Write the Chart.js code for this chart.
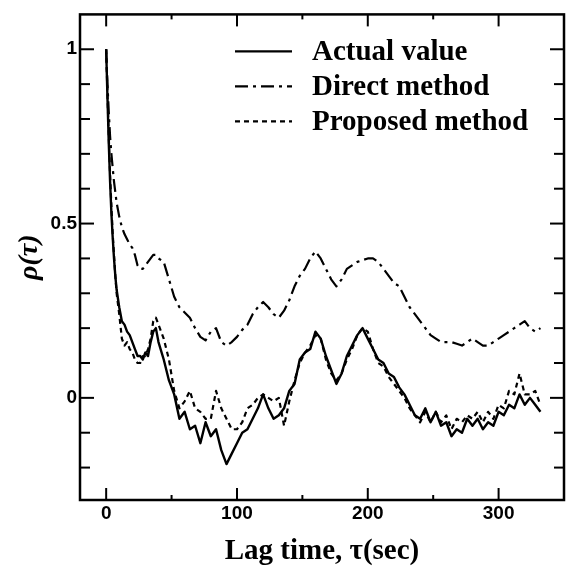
<!DOCTYPE html>
<html>
<head>
<meta charset="utf-8">
<title>Autocorrelation vs lag time</title>
<script src="https://cdn.jsdelivr.net/npm/chart.js@4.4.1/dist/chart.umd.min.js"></script>
<style>
  html, body { margin: 0; padding: 0; background: #fff; }
  #wrap { width: 573px; height: 569px; }
</style>
</head>
<body>
<div id="wrap"><canvas id="acf" width="573" height="569"></canvas></div>
<script>
// lag time (sec)
const lag = [0, 1, 2, 3, 4, 5, 6, 7, 8,
  10, 12, 14, 16, 18, 20, 22, 24, 26, 28, 30, 32, 34, 36, 38, 40,
  44, 48, 52, 56, 60, 64, 68, 72, 76, 80,
  84, 88, 92, 96, 100, 104, 108, 112, 116, 120,
  124, 128, 132, 136, 140, 144, 148, 152, 156, 160,
  164, 168, 172, 176, 180, 184, 188, 192, 196, 200,
  204, 208, 212, 216, 220, 224, 228, 232, 236, 240,
  244, 248, 252, 256, 260, 264, 268, 272, 276, 280,
  284, 288, 292, 296, 300, 304, 308, 312, 316, 320,
  324, 328, 332];

// rho(tau)
const actualValue = [1.00, 0.86, 0.73, 0.62, 0.53, 0.46, 0.40, 0.35, 0.31,
  0.26, 0.22, 0.21, 0.19, 0.18, 0.16, 0.14, 0.12, 0.12, 0.11, 0.13, 0.12, 0.16, 0.19, 0.20, 0.16,
  0.11, 0.05, 0.01, -0.06, -0.04, -0.09, -0.08, -0.13, -0.07, -0.11,
  -0.09, -0.15, -0.19, -0.16, -0.13, -0.10, -0.09, -0.06, -0.03, 0.01,
  -0.03, -0.06, -0.05, -0.03, 0.02, 0.04, 0.11, 0.13, 0.14, 0.19,
  0.17, 0.12, 0.08, 0.04, 0.07, 0.12, 0.15, 0.18, 0.20, 0.17,
  0.14, 0.11, 0.10, 0.07, 0.06, 0.03, 0.01, -0.02, -0.05, -0.06,
  -0.03, -0.07, -0.04, -0.08, -0.07, -0.11, -0.09, -0.10, -0.06, -0.08,
  -0.06, -0.09, -0.07, -0.08, -0.04, -0.05, -0.02, -0.03, 0.01, -0.02,
  0.00, -0.02, -0.04];

const directMethod = [1.00, 0.90, 0.82, 0.75, 0.70, 0.66, 0.62, 0.59, 0.56,
  0.52, 0.49, 0.47, 0.455, 0.44, 0.43, 0.41, 0.38, 0.37, 0.37, 0.38, 0.39, 0.40, 0.41, 0.41, 0.40,
  0.39, 0.34, 0.29, 0.26, 0.245, 0.23, 0.20, 0.175, 0.165, 0.19,
  0.20, 0.16, 0.15, 0.16, 0.175, 0.195, 0.21, 0.24, 0.26, 0.275,
  0.26, 0.24, 0.23, 0.25, 0.28, 0.32, 0.35, 0.37, 0.40, 0.42,
  0.40, 0.37, 0.34, 0.32, 0.34, 0.37, 0.38, 0.39, 0.395, 0.40,
  0.40, 0.39, 0.37, 0.35, 0.33, 0.32, 0.29, 0.26, 0.24, 0.22,
  0.20, 0.18, 0.17, 0.16, 0.16, 0.16, 0.155, 0.15, 0.16, 0.17,
  0.16, 0.15, 0.15, 0.16, 0.17, 0.18, 0.19, 0.20, 0.21, 0.22,
  0.20, 0.19, 0.20];

const proposedMethod = [1.00, 0.87, 0.75, 0.64, 0.55, 0.47, 0.41, 0.35, 0.30,
  0.24, 0.17, 0.15, 0.16, 0.14, 0.13, 0.11, 0.10, 0.10, 0.12, 0.12, 0.14, 0.17, 0.22, 0.23, 0.21,
  0.17, 0.11, 0.02, -0.03, -0.01, 0.02, -0.03, -0.04, -0.06, -0.06,
  0.02, -0.03, -0.06, -0.09, -0.09, -0.07, -0.03, -0.02, 0.00, 0.01,
  0.00, -0.01, 0.00, -0.08, -0.01, 0.05, 0.10, 0.13, 0.15, 0.18,
  0.17, 0.11, 0.07, 0.05, 0.07, 0.11, 0.14, 0.18, 0.20, 0.19,
  0.14, 0.10, 0.09, 0.06, 0.04, 0.02, 0.00, -0.03, -0.05, -0.07,
  -0.04, -0.07, -0.04, -0.07, -0.05, -0.09, -0.06, -0.07, -0.05, -0.06,
  -0.04, -0.07, -0.04, -0.06, -0.02, -0.03, 0.02, 0.01, 0.07, 0.01,
  0.01, 0.02, -0.02];

// axis ticks
const xMajor = [0, 100, 200, 300];
const xMinor = [50, 150, 250];
const yMajor = [0, 0.5, 1];
const yMinor = [-0.2, -0.1, 0.1, 0.2, 0.3, 0.4, 0.6, 0.7, 0.8, 0.9];

const toPoints = ys => lag.map((t, i) => ({x: t, y: ys[i]}));

// box round the plot with inward ticks on every side
const frame = {
  id: "frame",
  afterDraw(chart) {
    const {ctx, chartArea: a, scales: {x, y}} = chart;
    ctx.save();
    ctx.strokeStyle = "#000";
    ctx.lineWidth = 2.5;
    ctx.strokeRect(a.left, a.top, a.right - a.left, a.bottom - a.top);
    ctx.lineWidth = 2;
    const seg = (x1, y1, x2, y2) => {
      ctx.beginPath(); ctx.moveTo(x1, y1); ctx.lineTo(x2, y2); ctx.stroke();
    };
    xMajor.concat(xMinor).forEach(v => {
      const px = x.getPixelForValue(v);
      const len = xMajor.includes(v) ? 12 : 5;
      seg(px, a.bottom, px, a.bottom - len);
      seg(px, a.top, px, a.top + len);
    });
    yMajor.concat(yMinor).forEach(v => {
      const py = y.getPixelForValue(v);
      const len = yMajor.includes(v) ? 14 : 10;
      seg(a.left, py, a.left + len, py);
      seg(a.right, py, a.right - len, py);
    });
    ctx.restore();
  }
};

// legend in the top right corner of the plot
const lineKey = {
  id: "lineKey",
  afterDraw(chart) {
    const {ctx, chartArea: a} = chart;
    ctx.save();
    ctx.font = "bold 29px 'Liberation Serif'";
    ctx.fillStyle = "#000";
    ctx.strokeStyle = "#000";
    chart.data.datasets.forEach((ds, i) => {
      const ly = a.top + 37 + i * 35;
      ctx.lineWidth = ds.borderWidth;
      ctx.setLineDash(ds.borderDash || []);
      ctx.beginPath(); ctx.moveTo(a.left + 155, ly); ctx.lineTo(a.left + 212, ly); ctx.stroke();
      ctx.setLineDash([]);
      ctx.fillText(ds.label, a.left + 232, ly + 9);
    });
    ctx.restore();
  }
};

const tickFont = {family: "'Liberation Sans', Arial, sans-serif", size: 19, weight: "bold"};

new Chart(document.getElementById("acf"), {
  type: "line",
  data: {
    datasets: [
      {label: "Actual value", data: toPoints(actualValue), borderWidth: 2.4, borderDash: []},
      {label: "Direct method", data: toPoints(directMethod), borderWidth: 2.2, borderDash: [13, 5, 3, 5]},
      {label: "Proposed method", data: toPoints(proposedMethod), borderWidth: 2.2, borderDash: [5, 4]}
    ]
  },
  options: {
    responsive: false,
    animation: false,
    layout: {padding: {left: 0, right: 9, top: 10, bottom: 0}, autoPadding: false},
    plugins: {legend: {display: false}, tooltip: {enabled: false}},
    elements: {
      point: {radius: 0},
      line: {tension: 0, borderColor: "#000", borderCapStyle: "butt", borderJoinStyle: "round"}
    },
    scales: {
      x: {
        type: "linear", min: -20, max: 350,
        afterFit: s => { s.height = 69; },
        afterBuildTicks: s => { s.ticks = xMajor.map(v => ({value: v})); },
        grid: {display: false, drawTicks: false},
        border: {display: false},
        ticks: {color: "#000", padding: 2, font: tickFont, callback: v => String(v)},
        title: {display: true, text: "Lag time, τ(sec)", color: "#000",
                font: {family: "'Liberation Serif', serif", size: 29, weight: "bold"}, padding: 0}
      },
      y: {
        type: "linear", min: -0.293, max: 1.1,
        afterFit: s => { s.width = 80; },
        afterBuildTicks: s => { s.ticks = yMajor.map(v => ({value: v})); },
        grid: {display: false, drawTicks: false},
        border: {display: false},
        ticks: {color: "#000", padding: 3, font: tickFont, callback: v => String(v)},
        title: {display: true, text: "ρ(τ)", color: "#000",
                font: {family: "'Liberation Serif', serif", size: 28, style: "italic", weight: "bold"},
                padding: {top: 13, bottom: 0}}
      }
    }
  },
  plugins: [frame, lineKey]
});
</script>
</body>
</html>
